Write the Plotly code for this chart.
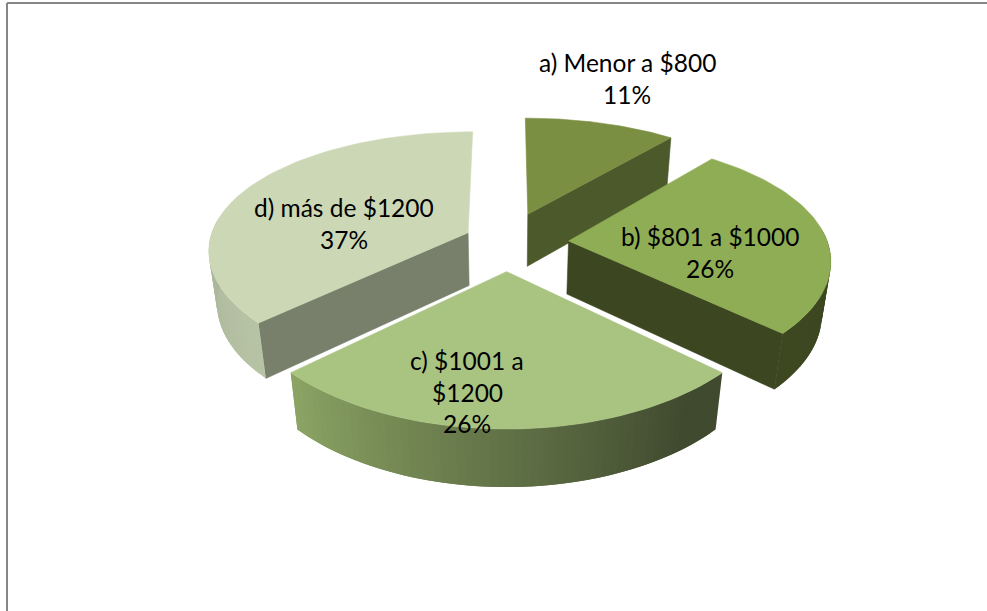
import math
import plotly.graph_objects as go

# --- chart data ---
categories = ["a) Menor a $800", "b) $801 a $1000", "c) $1001 a $1200", "d) más de $1200"]
values = [11, 26, 26, 37]
pct_labels = ["11%", "26%", "26%", "37%"]
label_lines = [["a) Menor a $800", "11%"], ["b) $801 a $1000", "26%"],
               ["c) $1001 a", "$1200", "26%"], ["d) más de $1200", "37%"]]

# --- styles / projection of the tilted pie ---
top_colors = ["#7b8f43", "#8fad54", "#a9c381", "#ccd8b5"]
edge_colors = ["#4c5a2b", "#3c4620", "#5a6a3a", "#787f6b"]
arc_from = ["#4c5a2b", "#3d4821", "#8ba464", "#a9b499"]
arc_to = ["#4c5a2b", "#3c4620", "#404a2f", "#b7c3a5"]
edge_side = ["end", "end", None, "start"]
explode = [(0.085, 0.232), (0.24, 0.0), (0.0, -0.245), (-0.15, 0.07)]
CX, CY, A, B, KX, KY, KZ, M, H = 506.5, 241.0, 258.6, 120.0, 0.136, 0.165, 0.07, 0.028, 53.0


def project(u, v, z=0.0):
    sx = 1.0 / (1.0 + KX * v + M * z)
    sy = 1.0 / (1.0 + KY * v)
    return CX + A * u * sx, CY - B * v * sy + H * z / (1.0 + KZ * v)


def mix(c1, c2, t):
    a = [int(c1[i:i + 2], 16) for i in (1, 3, 5)]
    b = [int(c2[i:i + 2], 16) for i in (1, 3, 5)]
    return "rgb(%d,%d,%d)" % tuple(round(x + (y - x) * t) for x, y in zip(a, b))


def poly(fig, pts, color, lw=0.6):
    xs = [p[0] for p in pts] + [pts[0][0]]
    ys = [p[1] for p in pts] + [pts[0][1]]
    fig.add_trace(go.Scatter(x=xs, y=ys, mode="lines", fill="toself", fillcolor=color,
                             line=dict(color=color, width=lw), hoverinfo="skip", showlegend=False))


fig = go.Figure()

total = sum(values)
starts = []
acc = 0.0
for val in values:
    starts.append(acc)
    acc += val / total * 2 * math.pi

for i in [3, 0, 1, 2]:
    t0 = starts[i]
    t1 = t0 + values[i] / total * 2 * math.pi
    ou, ov = explode[i]
    n = 60
    angs = [t0 + (t1 - t0) * j / n for j in range(n + 1)]
    rim = [(ou + math.sin(t), ov + math.cos(t)) for t in angs]

    # straight inner wall
    if edge_side[i]:
        e = rim[-1] if edge_side[i] == "end" else rim[0]
        poly(fig, [project(ou, ov), project(*e), project(*e, 1), project(ou, ov, 1)], edge_colors[i])

    # curved outer wall, shaded along the arc; each strip overlaps the next to hide seams
    vis = [j for j in range(n) if math.cos((angs[j] + angs[j + 1]) / 2) <= 0.08]
    for idx, j in enumerate(vis):
        end = min(j + 2, n)
        part = rim[j:end + 1]
        t = min(1.0, 1.12 * (1 - idx / max(1, len(vis) - 1))) if i == 2 else idx / max(1, len(vis) - 1)
        pts = [project(*p) for p in part] + [project(*p, 1) for p in reversed(part)]
        poly(fig, pts, mix(arc_from[i], arc_to[i], t if i == 2 else 1 - t), lw=0)

    # top face
    poly(fig, [project(ou, ov)] + [project(*r) for r in rim], top_colors[i])

# label positions on the page
label_pos = [(627, [62, 94]), (710, [236, 268]), (467, [360, 392, 423]), (344, [207, 239])]
for lines, (lx, lys) in zip(label_lines, label_pos):
    for text, ly in zip(lines, lys):
        fig.add_annotation(x=lx, y=ly, text=text, showarrow=False, xanchor="center", yanchor="middle",
                           font=dict(family="Lato", size=24.5, color="#000000"))

frame = dict(color="#868686", width=2)
fig.add_shape(type="line", x0=7, x1=987, y0=3, y1=3, line=frame)
fig.add_shape(type="line", x0=7, x1=7, y0=3, y1=611, line=frame)

fig.update_layout(width=987, height=611, margin=dict(l=0, r=0, t=0, b=0), autosize=False,
                  paper_bgcolor="white", plot_bgcolor="white", showlegend=False,
                  xaxis=dict(range=[0, 987], visible=False, fixedrange=True),
                  yaxis=dict(range=[611, 0], visible=False, fixedrange=True))

fig.write_html("out.html", post_script="document.body.style.margin='0';", config={"displayModeBar": False})
